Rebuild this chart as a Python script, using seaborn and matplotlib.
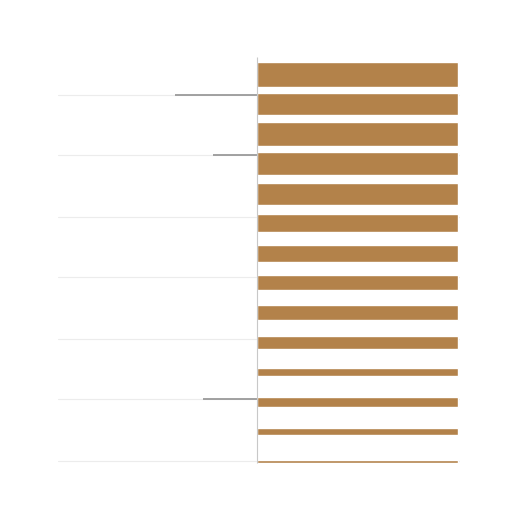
import numpy as np
import matplotlib
matplotlib.use("Agg")
import matplotlib.pyplot as plt
import seaborn as sns

# bar data: every row runs 0 -> 100, thickness shrinks going down
rows = list(range(14))
values = [100] * 14
thickness = [0.84, 0.74, 0.81, 0.77, 0.74, 0.60, 0.57, 0.50, 0.50, 0.44, 0.27, 0.34, 0.24, 0.10]

# faint gridlines (row positions) and the darker left segments
grid_rows = [0.7, 2.7, 4.8, 6.8, 8.9, 10.9, 13.0]
seg_rows = [0.7, 2.7, 10.9]
seg_start = [-41, -22, -27]

sns.set_style("white")
plt.rcParams['font.family'] = ['DejaVu Sans']

fig, ax = plt.subplots(figsize=(5.12, 5.12), dpi=100)
fig.subplots_adjust(left=58/512, right=460/512, top=1-55/512, bottom=1-465/512)

#gridlines behind the bars
for g in grid_rows:
    ax.axhline(g, color="#ececec", lw=0.8, zorder=0)

ax.barh(rows, values, height=thickness, left=0, color="#b3824a", zorder=2)

#darker segments on the left
ax.hlines(seg_rows, seg_start, 0, color="#9a9a9a", lw=1.3, zorder=3)

#axis line at zero
ax.vlines(0, -0.6, 13.05, color="#c8c8c8", lw=0.8, zorder=3)

ax.set_xlim(-99, 101)
ax.set_ylim(13.12, -0.655)
ax.set_xticks([])
ax.set_yticks([])
sns.despine(ax=ax, left=True, bottom=True)

fig.savefig("out.png", dpi=100)
